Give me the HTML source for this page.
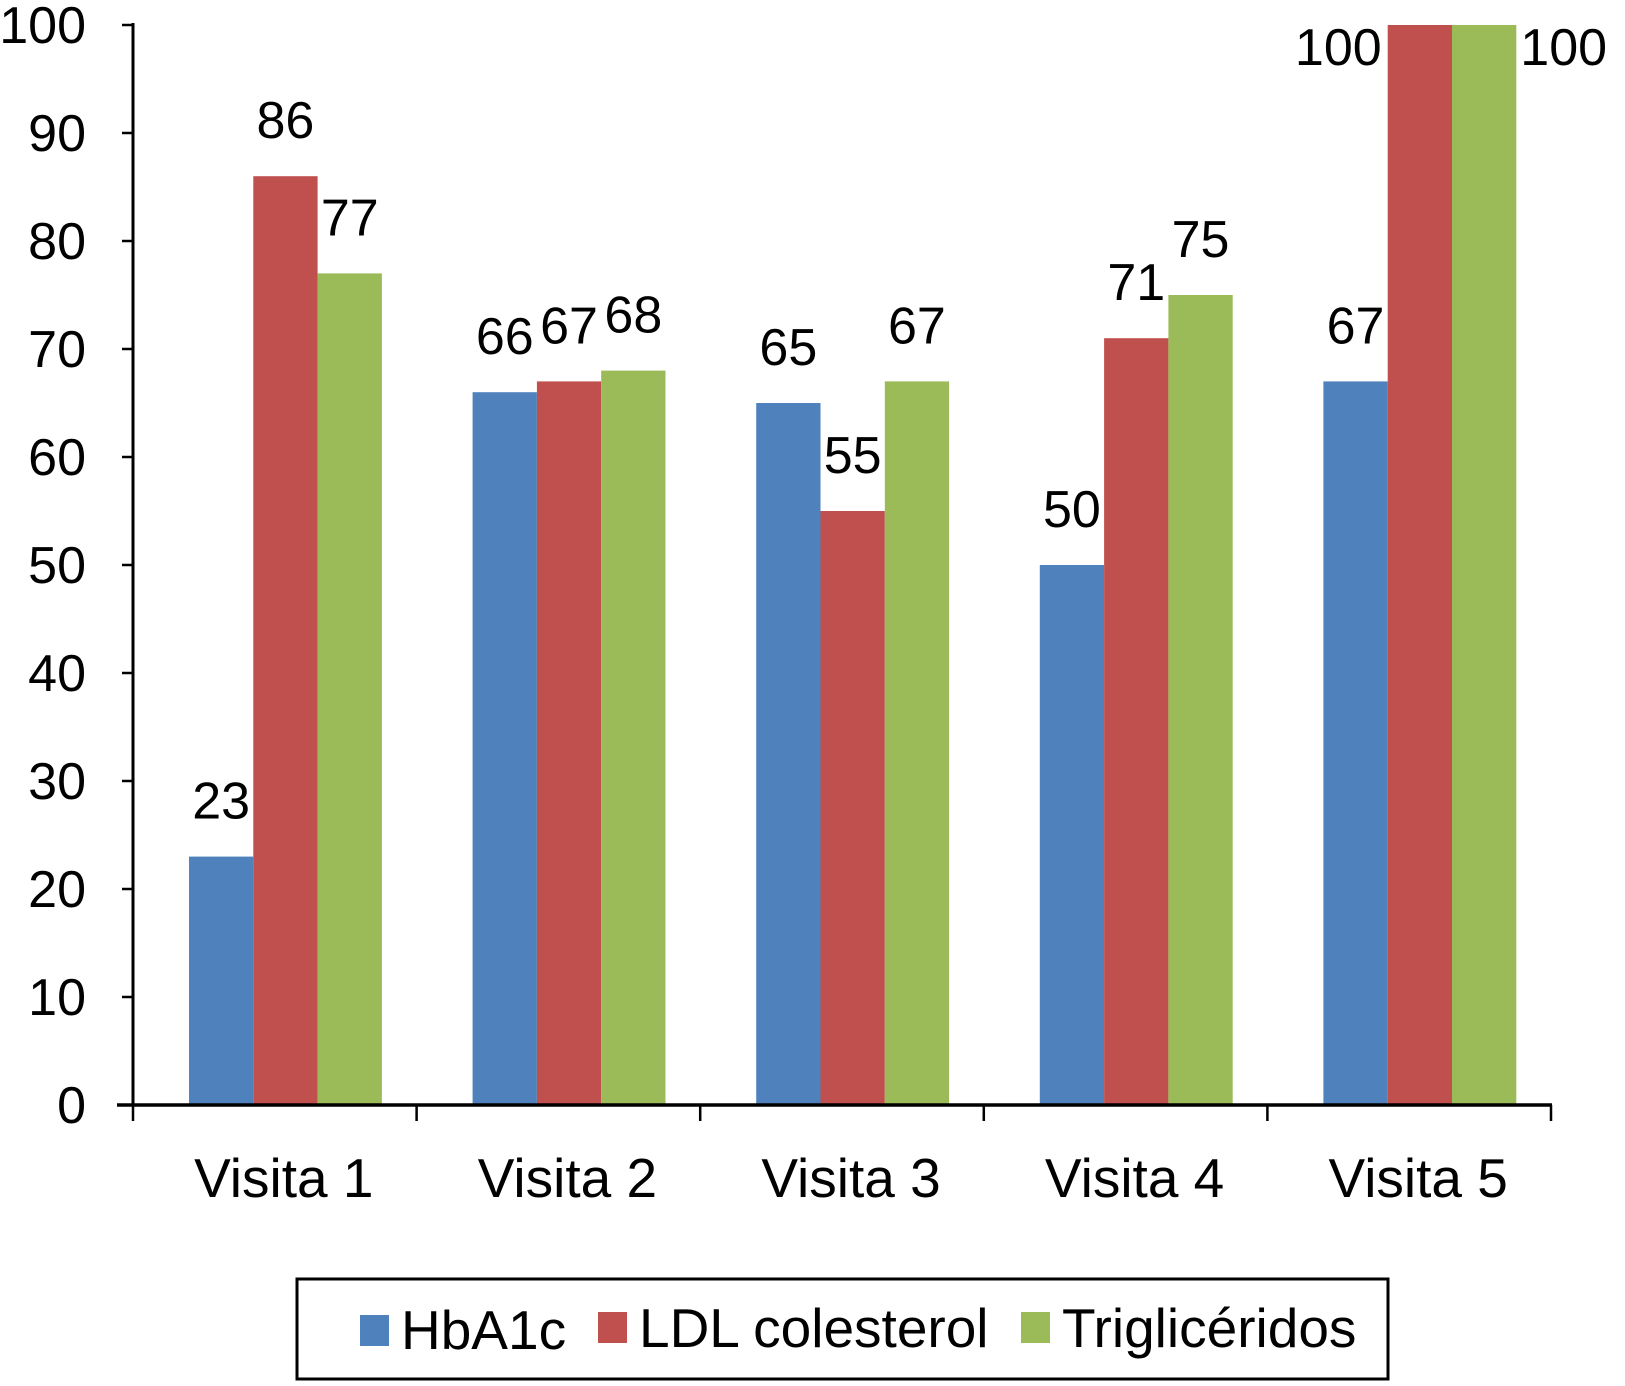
<!DOCTYPE html>
<html><head><meta charset="utf-8"><style>
html,body{margin:0;padding:0;background:#fff;}
svg text{font-family:"Liberation Sans",sans-serif;fill:#000;}
</style></head><body>
<svg id="chart" width="1625" height="1381" viewBox="0 0 1625 1381" xmlns="http://www.w3.org/2000/svg">
<g id="bars"></g>
<g id="axes"></g>
<g id="legend">
<rect x="297" y="1279" width="1091" height="100" fill="#fff" stroke="#000" stroke-width="3"/>
<rect x="360" y="1315" width="29" height="31" fill="#4F81BD"/>
<text x="401" y="1349" font-size="55">HbA1c</text>
<rect x="598" y="1312" width="29" height="31" fill="#C0504D"/>
<text x="639" y="1347" font-size="55">LDL colesterol</text>
<rect x="1021" y="1312" width="29" height="31" fill="#9BBB59"/>
<text x="1062" y="1347" font-size="55">Triglicéridos</text>
</g>
</svg>
<script>
const categories = ["Visita 1","Visita 2","Visita 3","Visita 4","Visita 5"];
const hba1c = [23,66,65,50,67];
const ldl = [86,67,55,71,100];
const trig = [77,68,67,75,100];
const yTicks = [0,10,20,30,40,50,60,70,80,90,100];
const seriesNames = ["hba1c","ldl","trig"];
const seriesColors = ["#4F81BD","#C0504D","#9BBB59"];

const NS="http://www.w3.org/2000/svg";
const x0=133, x1=1551, y0=1105, yTop=25, yMax=100;
const catW=(x1-x0)/categories.length;
const barW=64.3, groupOff=56;
function yScale(v){return y0-(v/yMax)*(y0-yTop);}
function xBar(c,s){return x0+c*catW+groupOff+s*barW;}
function mk(tag,attrs,parent){const e=document.createElementNS(NS,tag);for(const k in attrs)e.setAttribute(k,attrs[k]);parent.appendChild(e);return e;}

const barsG=document.getElementById('bars'), axesG=document.getElementById('axes');
const all=[hba1c,ldl,trig];
all.forEach((arr,s)=>{
  arr.forEach((v,c)=>{
    const x=xBar(c,s), y=yScale(v);
    const r=mk('rect',{x:x,y:y,width:barW,height:y0-y,fill:seriesColors[s]},barsG);
    
    
    let tx=x+barW/2, ty=y-38, anchor='middle';
    if(v>=yMax){ ty=yScale(v)+40; if(s===1){tx=x-6;anchor='end';} else {tx=x+barW+4;anchor='start';} }
    const t=mk('text',{x:tx,y:ty,'font-size':52,'text-anchor':anchor},barsG);
    
    
    t.textContent=v;
  });
});
const ya=mk('line',{x1:x0,y1:yTop-2,x2:x0,y2:y0+1,stroke:'#000','stroke-width':3},axesG);


const xa=mk('line',{x1:x0-16,y1:y0,x2:x1+1,y2:y0,stroke:'#000','stroke-width':3.5},axesG);


yTicks.forEach(v=>{
  const y=yScale(v);
  const tk=mk('line',{x1:x0-11,y1:y,x2:x0,y2:y,stroke:'#000','stroke-width':2.5},axesG);
  
  
  const t=mk('text',{x:86,y:y+18,'font-size':52,'text-anchor':'end'},axesG);
  
  
  t.textContent=v;
});
for(let i=0;i<=categories.length;i++){
  const x=x0+i*catW;
  const tk=mk('line',{x1:x,y1:y0,x2:x,y2:y0+16,stroke:'#000','stroke-width':2.5},axesG);
  
  
}
categories.forEach((c,i)=>{
  const t=mk('text',{x:x0+(i+0.5)*catW+9,y:1197,'font-size':55,'text-anchor':'middle'},axesG);
  
  
  t.textContent=c;
});
</script>
</body></html>
